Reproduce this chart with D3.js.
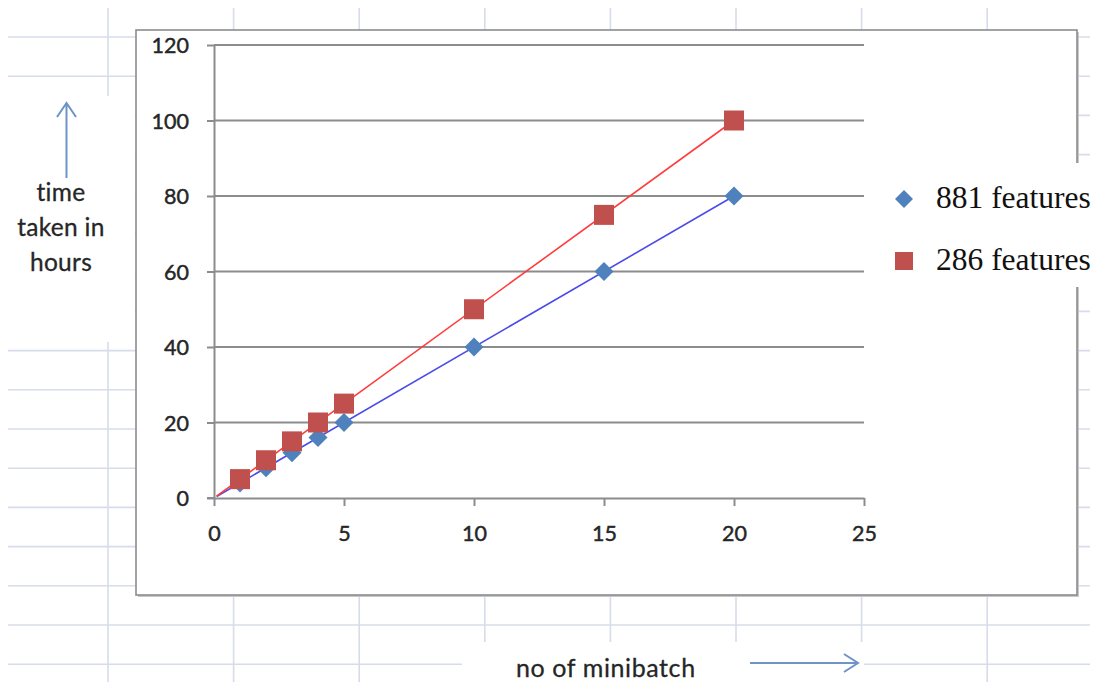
<!DOCTYPE html>
<html>
<head>
<meta charset="utf-8">
<script src="https://cdn.jsdelivr.net/npm/d3@7"></script>
<style>
  html, body { margin: 0; padding: 0; background: #fff; }
  svg { display: block; }
</style>
</head>
<body>
<svg id="chart" width="1097" height="682"></svg>
<script>
// ---- data ----
const minibatch = [1, 2, 3, 4, 5, 10, 15, 20];
const hours881 = [4, 8, 12, 16, 20, 40, 60, 80];
const hours286 = [5, 10, 15, 20, 25, 50, 75, 100];
const seriesNames = ["881 features", "286 features"];
const xTicks = [0, 5, 10, 15, 20, 25];
const yTicks = [0, 20, 40, 60, 80, 100, 120];
const yLabelLines = ["time", "taken in", "hours"];
const xLabel = "no of minibatch";

const svg = d3.select("#chart");
const W = 1097, H = 682;

// ---- spreadsheet background grid ----
const sheetColor = "#d6dcea";
const bg = svg.append("g");
const rowYs = d3.range(0, 17).map(k => 37 + 39.2 * k);
const colXs = d3.range(0, 8).map(k => 108 + 125.6 * k);
bg.selectAll("line.r").data(rowYs).join("line")
  .attr("x1", 8).attr("x2", 1090).attr("y1", d => d).attr("y2", d => d)
  .attr("stroke", sheetColor).attr("stroke-width", 1.6);
bg.selectAll("line.c").data(colXs).join("line")
  .attr("x1", d => d).attr("x2", d => d).attr("y1", 8).attr("y2", H)
  .attr("stroke", sheetColor).attr("stroke-width", 1.6);

// text boxes covering sheet grid
svg.append("rect").attr("x", 0).attr("y", 96).attr("width", 135).attr("height", 246).attr("fill", "#fff");
svg.append("rect").attr("x", 462).attr("y", 642).attr("width", 402).attr("height", 40).attr("fill", "#fff");

// ---- chart box ----
const box = {x: 136, y: 30, w: 941, h: 565};
svg.append("rect").attr("x", box.x + 2).attr("y", box.y + 2).attr("width", box.w).attr("height", box.h)
  .attr("fill", "#c8c8c8");
svg.append("rect").attr("x", box.x).attr("y", box.y).attr("width", box.w).attr("height", box.h)
  .attr("fill", "#fff").attr("stroke", "#8c8c8c").attr("stroke-width", 1.6);

// ---- scales ----
const x = d3.scaleLinear().domain([0, 25]).range([214, 864]);
const y = d3.scaleLinear().domain([0, 120]).range([498, 45]);

const gridColor = "#8c8c8c";
const tickFont = "Lato, 'Open Sans', sans-serif";
const textColor = "#262626";

// horizontal gridlines
svg.append("g").selectAll("line").data(yTicks.filter(v => v > 0)).join("line")
  .attr("x1", x(0)).attr("x2", x(25)).attr("y1", d => y(d)).attr("y2", d => y(d))
  .attr("stroke", gridColor).attr("stroke-width", 2);

// y axis
const yAxis = svg.append("g").attr("transform", `translate(${x(0)},0)`)
  .call(d3.axisLeft(y).tickValues(yTicks).tickSize(7).tickSizeOuter(0).tickPadding(18));
yAxis.select(".domain").attr("stroke", gridColor).attr("stroke-width", 2);
yAxis.selectAll(".tick line").attr("stroke", gridColor).attr("stroke-width", 2);
yAxis.selectAll(".tick text").attr("font-family", tickFont).attr("font-size", 21.5)
  .attr("fill", textColor).attr("stroke", textColor).attr("stroke-width", 0.45).attr("dy", "0.36em");

// x axis
const xAxis = svg.append("g").attr("transform", `translate(0,${y(0)})`)
  .call(d3.axisBottom(x).tickValues(xTicks).tickSize(8).tickSizeOuter(0).tickPadding(20));
xAxis.select(".domain").attr("stroke", gridColor).attr("stroke-width", 2);
xAxis.selectAll(".tick line").attr("stroke", gridColor).attr("stroke-width", 2);
xAxis.selectAll(".tick text").attr("font-family", tickFont).attr("font-size", 21.5)
  .attr("fill", textColor).attr("stroke", textColor).attr("stroke-width", 0.45);
// extend x-axis line to left tick position
svg.append("line").attr("x1", x(0) - 7).attr("x2", x(0)).attr("y1", y(0)).attr("y2", y(0))
  .attr("stroke", gridColor).attr("stroke-width", 2);

// ---- trendlines (least squares) ----
function fit(xs, ys) {
  const mx = d3.mean(xs), my = d3.mean(ys);
  const b = d3.sum(xs, (v, i) => (v - mx) * (ys[i] - my)) / d3.sum(xs, v => (v - mx) * (v - mx));
  return {a: my - b * mx, b};
}
const series = [
  {name: seriesNames[0], ys: hours881, color: "#4f81bd", trend: "#4b4bea", shape: "diamond"},
  {name: seriesNames[1], ys: hours286, color: "#c0504d", trend: "#ff3b3b", shape: "square"}
];
series.forEach(s => {
  const f = fit(minibatch, s.ys);
  const x0 = 0.1, x1 = d3.max(minibatch);
  svg.append("line")
    .attr("x1", x(x0)).attr("y1", y(f.a + f.b * x0))
    .attr("x2", x(x1)).attr("y2", y(f.a + f.b * x1))
    .attr("stroke", s.trend).attr("stroke-width", 1.6);
});

// ---- markers ----
const diamond = (cx, cy, r) => `M${cx},${cy - r}L${cx + r},${cy}L${cx},${cy + r}L${cx - r},${cy}Z`;
function drawMarker(g, shape, cx, cy, size, color) {
  if (shape === "square") {
    g.append("rect").attr("x", cx - size / 2).attr("y", cy - size / 2)
      .attr("width", size).attr("height", size).attr("fill", color);
  } else {
    g.append("path").attr("d", diamond(cx, cy, size / 2)).attr("fill", color);
  }
}
const mk = svg.append("g");
series.forEach(s => {
  minibatch.forEach((mb, i) => {
    drawMarker(mk, s.shape, x(mb), y(s.ys[i]), s.shape === "square" ? 20 : 19, s.color);
  });
});

// ---- legend ----
svg.append("rect").attr("x", 884).attr("y", 163).attr("width", 213).attr("height", 124).attr("fill", "#fff");
const legY = [199, 261];
series.forEach((s, i) => {
  drawMarker(svg, s.shape, 904, legY[i], 18, s.color);
  svg.append("text").attr("x", 936).attr("y", legY[i] + 9)
    .attr("font-family", "'Liberation Serif', 'Times New Roman', serif")
    .attr("font-size", 31.5).attr("fill", "#111").text(s.name);
});

// ---- axis titles ----
const labFont = "Lato, 'Open Sans', sans-serif";
const arrowColor = "#6e93c6";
svg.append("g").selectAll("text").data(yLabelLines).join("text")
  .attr("x", 61).attr("y", (d, i) => 201 + i * 35).attr("text-anchor", "middle")
  .attr("font-family", labFont).attr("font-size", 24.5).attr("letter-spacing", 0.3)
  .attr("fill", textColor).attr("stroke", textColor).attr("stroke-width", 0.3).text(d => d);
svg.append("text").attr("x", 516).attr("y", 677)
  .attr("font-family", labFont).attr("font-size", 25).attr("letter-spacing", 0.6)
  .attr("fill", textColor).attr("stroke", textColor).attr("stroke-width", 0.3).text(xLabel);

// arrows
svg.append("path").attr("d", "M66.5,178L66.5,103M57,117L66.5,103L76,117")
  .attr("fill", "none").attr("stroke", arrowColor).attr("stroke-width", 2);
svg.append("path").attr("d", "M750,663L858,663M844,654L858,663L844,672")
  .attr("fill", "none").attr("stroke", arrowColor).attr("stroke-width", 2);
</script>
</body>
</html>
